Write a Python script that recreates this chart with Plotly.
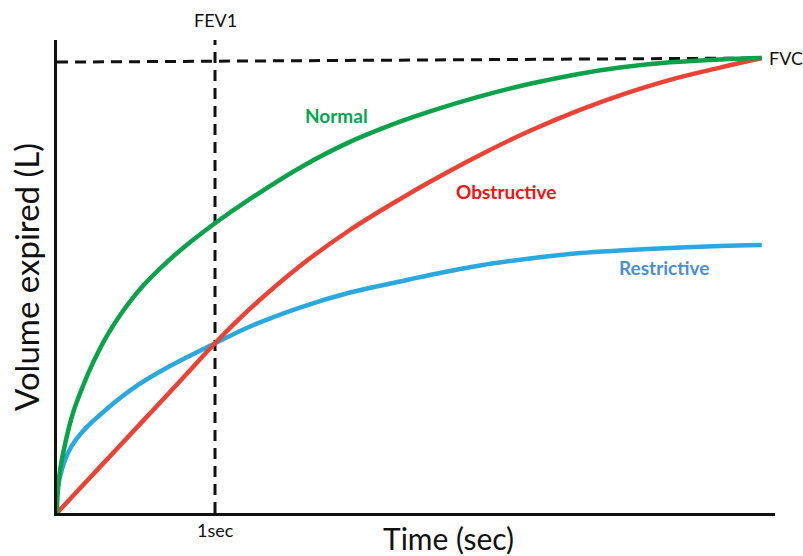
import plotly.graph_objects as go

# Time (sec) and volume expired (L)
normal_t = [0, 0.002, 0.019, 0.051, 0.103, 0.167, 0.230, 0.315, 0.420, 0.546, 0.694, 0.842, 1.004,
            1.222, 1.538, 1.854, 2.171, 2.361, 2.677, 2.994, 3.310, 3.563, 3.880, 4.196, 4.46]
normal_v = [0, 0.165, 0.462, 0.758, 1.110, 1.407, 1.659, 1.945, 2.225, 2.500, 2.755, 2.975, 3.190,
            3.452, 3.795, 4.078, 4.300, 4.414, 4.578, 4.717, 4.828, 4.896, 4.953, 4.985, 5.0]

obstr_t = [0, 0.165, 0.380, 0.589, 0.797, 1.0, 1.222, 1.538, 1.854, 2.171, 2.361, 2.677, 2.994,
           3.310, 3.563, 3.880, 4.196, 4.46]
obstr_v = [0, 0.307, 0.707, 1.096, 1.483, 1.865, 2.245, 2.715, 3.110, 3.450, 3.640, 3.935, 4.200,
           4.430, 4.590, 4.760, 4.895, 5.0]

restr_t = [0, 0.002, 0.032, 0.082, 0.165, 0.315, 0.504, 0.715, 1.004, 1.222, 1.538, 1.854, 2.171,
           2.361, 2.677, 2.994, 3.310, 3.563, 3.880, 4.196, 4.46]
restr_v = [0, 0.242, 0.484, 0.703, 0.901, 1.143, 1.396, 1.615, 1.868, 2.050, 2.258, 2.423, 2.544,
           2.615, 2.720, 2.797, 2.857, 2.885, 2.912, 2.934, 2.945]

fvc_left = 4.955
fvc_right = 5.0
fev1_t = 1.0
t_end = 4.46
x_max = 4.544
y_max = 5.198

GREEN = "#0ca24a"
RED = "#ea4335"
BLUE = "#2aa9e0"
FONT = "Lato, Open Sans, sans-serif"
DASH = dict(color="#111111", width=3, dash="11px,7px")

fig = go.Figure()
fig.add_trace(go.Scatter(x=[0, t_end], y=[fvc_left, fvc_right], mode="lines", line=DASH, hoverinfo="skip"))
fig.add_trace(go.Scatter(x=[fev1_t, fev1_t], y=[0, y_max], mode="lines", line=DASH, hoverinfo="skip"))
for t, v, c in [(restr_t, restr_v, BLUE), (obstr_t, obstr_v, RED), (normal_t, normal_v, GREEN)]:
    fig.add_trace(go.Scatter(x=t, y=v, mode="lines",
                             line=dict(color=c, width=4.5, shape="spline", smoothing=1.0),
                             hoverinfo="skip"))

anns = [
    dict(x=1.766, y=4.37, text="<b>Normal</b>", font=dict(color="#00a651", size=19)),
    dict(x=2.842, y=3.538, text="<b>Obstructive</b>", font=dict(color="#f01414", size=19)),
    dict(x=3.842, y=2.703, text="<b>Restrictive</b>", font=dict(color="#4a8fd6", size=19)),
    dict(x=t_end, y=fvc_right, text="FVC", xanchor="left", xshift=5, font=dict(color="#111111", size=18)),
    dict(x=fev1_t, y=1, yref="paper", yshift=20, text="FEV1", font=dict(color="#111111", size=18)),
    dict(x=fev1_t, y=0, yref="paper", yshift=-17, text="1sec", font=dict(color="#111111", size=18)),
    dict(x=0.5446, xref="paper", y=0, yref="paper", yshift=-25, text="Time (sec)",
         font=dict(color="#111111", size=30)),
    dict(x=0, xref="paper", xshift=-31, y=0.499, yref="paper", text="Volume expired (L)", textangle=-90,
         font=dict(color="#111111", size=33)),
]
for a in anns:
    a.setdefault("xanchor", "center")
    a.setdefault("xref", "x")
    a.setdefault("yref", "y")
    a.update(showarrow=False, yanchor="middle")
    a["font"]["family"] = FONT
    fig.add_annotation(**a)

fig.update_layout(
    width=803, height=556,
    margin=dict(l=57, r=28, t=40, b=43),
    paper_bgcolor="white", plot_bgcolor="white",
    showlegend=False,
    font=dict(family=FONT),
    xaxis=dict(range=[0, x_max], showgrid=False, zeroline=False, showticklabels=False, ticks="",
               showline=True, linecolor="#111111", linewidth=3, automargin=False),
    yaxis=dict(range=[0, y_max], showgrid=False, zeroline=False, showticklabels=False, ticks="",
               showline=True, linecolor="#111111", linewidth=3, automargin=False),
)
fig.write_html("out.html", config={"displayModeBar": False})

# remove the browser's default page margin so the figure sits at the window's corner
with open("out.html", encoding="utf-8") as f:
    html = f.read()
html = html.replace("<head>", "<head><style>html,body{margin:0;padding:0;overflow:hidden;}</style>", 1)
with open("out.html", "w", encoding="utf-8") as f:
    f.write(html)
